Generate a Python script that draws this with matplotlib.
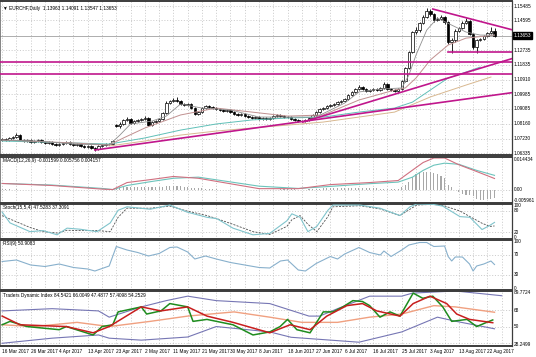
import matplotlib
matplotlib.use("Agg")
import matplotlib.pyplot as plt
from matplotlib.transforms import blended_transform_factory

plt.rcParams["font.family"] = ["Liberation Sans", "DejaVu Sans"]

W, H = 536, 357
X_LEFT, X_RIGHT = -0.6, 142.9

# daily candles, bar 0 = 16 Mar 2017 ... bar 138 = 24 Aug 2017 (Sunday bars included)
opens = [1.0715, 1.0721, 1.0715, 1.0728, 1.0734, 1.0746, 1.0715, 1.0709, 1.0715, 1.0703,
         1.0709, 1.0715, 1.0703, 1.0697, 1.0703, 1.0690, 1.0684, 1.0690, 1.0697, 1.0703,
         1.0690, 1.0684, 1.0690, 1.0678, 1.0672, 1.0678, 1.0665, 1.0659, 1.0678, 1.0684,
         1.0690, 1.0690, 1.0808, 1.0802, 1.0815, 1.0840, 1.0846, 1.0821, 1.0833, 1.0840,
         1.0846, 1.0852, 1.0808, 1.0827, 1.0833, 1.0846, 1.0883, 1.0945, 1.0958, 1.0964,
         1.0958, 1.0939, 1.0933, 1.0939, 1.0914, 1.0877, 1.0889, 1.0914, 1.0927, 1.0920,
         1.0914, 1.0908, 1.0902, 1.0896, 1.0902, 1.0889, 1.0877, 1.0871, 1.0877, 1.0864,
         1.0858, 1.0852, 1.0858, 1.0846, 1.0852, 1.0846, 1.0852, 1.0864, 1.0871, 1.0864,
         1.0858, 1.0858, 1.0846, 1.0840, 1.0833, 1.0833, 1.0840, 1.0852, 1.0871, 1.0889,
         1.0908, 1.0914, 1.0927, 1.0933, 1.0939, 1.0951, 1.0958, 1.0970, 1.0995, 1.1014,
         1.1032, 1.1045, 1.1032, 1.1020, 1.1026, 1.1032, 1.1026, 1.1039, 1.1063, 1.1032,
         1.1026, 1.1020, 1.1032, 1.1082, 1.1163, 1.1262, 1.1387, 1.1399, 1.1443, 1.1480,
         1.1517, 1.1499, 1.1461, 1.1468, 1.1480, 1.1449, 1.1325, 1.1337, 1.1393, 1.1412,
         1.1443, 1.1455, 1.1374, 1.1293, 1.1337, 1.1343, 1.1362, 1.1380, 1.13963]
highs = [1.0730, 1.0727, 1.0735, 1.0742, 1.0759, 1.0751, 1.0722, 1.0721, 1.0720, 1.0716,
         1.0722, 1.0719, 1.0709, 1.0710, 1.0707, 1.0696, 1.0697, 1.0703, 1.0710, 1.0707,
         1.0695, 1.0696, 1.0694, 1.0683, 1.0685, 1.0682, 1.0671, 1.0684, 1.0690, 1.0697,
         1.0698, 1.0716, 1.0812, 1.0827, 1.0849, 1.0858, 1.0852, 1.0842, 1.0848, 1.0855,
         1.0864, 1.0858, 1.0834, 1.0842, 1.0852, 1.0890, 1.0958, 1.0967, 1.0976, 1.0983,
         1.0962, 1.0945, 1.0947, 1.0943, 1.0918, 1.0896, 1.0920, 1.0935, 1.0933, 1.0927,
         1.0920, 1.0914, 1.0908, 1.0909, 1.0906, 1.0894, 1.0883, 1.0884, 1.0881, 1.0870,
         1.0864, 1.0865, 1.0862, 1.0859, 1.0857, 1.0858, 1.0871, 1.0878, 1.0877, 1.0870,
         1.0865, 1.0862, 1.0851, 1.0845, 1.0840, 1.0847, 1.0858, 1.0877, 1.0895, 1.0914,
         1.0921, 1.0934, 1.0940, 1.0946, 1.0958, 1.0965, 1.0977, 1.1001, 1.1020, 1.1040,
         1.1057, 1.1051, 1.1038, 1.1033, 1.1039, 1.1038, 1.1045, 1.1076, 1.1069, 1.1039,
         1.1032, 1.1039, 1.1088, 1.1170, 1.1268, 1.1393, 1.1418, 1.1449, 1.1493, 1.1536,
         1.1530, 1.1505, 1.1480, 1.1493, 1.1486, 1.1455, 1.1349, 1.1405, 1.1418, 1.1455,
         1.1474, 1.1461, 1.1380, 1.1343, 1.1349, 1.1368, 1.1387, 1.1418, 1.14091]
lows = [1.0708, 1.0706, 1.0712, 1.0722, 1.0729, 1.0710, 1.0702, 1.0703, 1.0698, 1.0699,
        1.0704, 1.0698, 1.0691, 1.0692, 1.0686, 1.0679, 1.0680, 1.0686, 1.0692, 1.0685,
        1.0678, 1.0679, 1.0673, 1.0666, 1.0667, 1.0660, 1.0647, 1.0655, 1.0672, 1.0679,
        1.0683, 1.0686, 1.0797, 1.0790, 1.0810, 1.0833, 1.0815, 1.0815, 1.0827, 1.0834,
        1.0840, 1.0802, 1.0802, 1.0821, 1.0827, 1.0840, 1.0877, 1.0939, 1.0951, 1.0950,
        1.0933, 1.0927, 1.0927, 1.0908, 1.0871, 1.0871, 1.0883, 1.0908, 1.0914, 1.0908,
        1.0902, 1.0896, 1.0890, 1.0890, 1.0883, 1.0871, 1.0865, 1.0866, 1.0858, 1.0852,
        1.0846, 1.0847, 1.0840, 1.0841, 1.0840, 1.0841, 1.0847, 1.0859, 1.0858, 1.0852,
        1.0852, 1.0840, 1.0834, 1.0827, 1.0826, 1.0828, 1.0835, 1.0847, 1.0866, 1.0884,
        1.0902, 1.0909, 1.0921, 1.0927, 1.0934, 1.0946, 1.0952, 1.0965, 1.0989, 1.1008,
        1.1026, 1.1026, 1.1014, 1.1014, 1.1020, 1.1020, 1.1020, 1.1033, 1.1026, 1.1020,
        1.1014, 1.1014, 1.1026, 1.1076, 1.1157, 1.1256, 1.1374, 1.1387, 1.1436, 1.1474,
        1.1486, 1.1449, 1.1455, 1.1461, 1.1436, 1.1312, 1.1256, 1.1325, 1.1387, 1.1405,
        1.1436, 1.1368, 1.1281, 1.1256, 1.1331, 1.1337, 1.1355, 1.1374, 1.13547]
closes = [1.0721, 1.0715, 1.0728, 1.0734, 1.0746, 1.0715, 1.0709, 1.0715, 1.0703, 1.0709,
          1.0715, 1.0703, 1.0697, 1.0703, 1.0690, 1.0684, 1.0690, 1.0697, 1.0703, 1.0690,
          1.0684, 1.0690, 1.0678, 1.0672, 1.0678, 1.0665, 1.0659, 1.0678, 1.0684, 1.0690,
          1.0690, 1.0709, 1.0802, 1.0815, 1.0840, 1.0846, 1.0821, 1.0833, 1.0840, 1.0846,
          1.0852, 1.0808, 1.0827, 1.0833, 1.0846, 1.0883, 1.0945, 1.0958, 1.0964, 1.0958,
          1.0939, 1.0933, 1.0939, 1.0914, 1.0877, 1.0889, 1.0914, 1.0927, 1.0920, 1.0914,
          1.0908, 1.0902, 1.0896, 1.0902, 1.0889, 1.0877, 1.0871, 1.0877, 1.0864, 1.0858,
          1.0852, 1.0858, 1.0846, 1.0852, 1.0846, 1.0852, 1.0864, 1.0871, 1.0864, 1.0858,
          1.0858, 1.0846, 1.0840, 1.0833, 1.0833, 1.0840, 1.0852, 1.0871, 1.0889, 1.0908,
          1.0914, 1.0927, 1.0933, 1.0939, 1.0951, 1.0958, 1.0970, 1.0995, 1.1014, 1.1032,
          1.1045, 1.1032, 1.1020, 1.1026, 1.1032, 1.1026, 1.1039, 1.1063, 1.1032, 1.1026,
          1.1020, 1.1032, 1.1082, 1.1163, 1.1262, 1.1387, 1.1399, 1.1443, 1.1480, 1.1517,
          1.1499, 1.1461, 1.1468, 1.1480, 1.1449, 1.1325, 1.1337, 1.1393, 1.1412, 1.1443,
          1.1455, 1.1374, 1.1293, 1.1337, 1.1343, 1.1362, 1.1380, 1.1396, 1.13653]

date_labels = ["16 Mar 2017", "26 Mar 2017", "4 Apr 2017", "13 Apr 2017", "23 Apr 2017",
               "2 May 2017", "11 May 2017", "21 May 2017", "30 May 2017", "8 Jun 2017",
               "18 Jun 2017", "27 Jun 2017", "6 Jul 2017", "16 Jul 2017", "25 Jul 2017",
               "3 Aug 2017", "13 Aug 2017", "22 Aug 2017"]

price_ticks = [1.15485, 1.14595, 1.12735, 1.11835, 1.10910, 1.09985, 1.09085,
               1.08160, 1.07230, 1.06335]
last_price = 1.13653

# moving averages on the price chart, read as (bar, price) points
ma_fast_x = [0, 10, 20, 30, 33, 36, 42, 46, 50, 56, 64, 72, 80, 88, 96, 100, 106, 112,
             114, 116, 119, 122, 126, 130, 134, 138]
ma_fast_y = [1.0715, 1.0709, 1.0690, 1.0684, 1.0746, 1.0815, 1.0833, 1.0864, 1.0939,
             1.0914, 1.0902, 1.0858, 1.0858, 1.0858, 1.0945, 1.1014, 1.1032, 1.1039,
             1.1119, 1.1244, 1.1399, 1.1474, 1.1430, 1.1387, 1.1368, 1.1368]
ma_mid_x = [0, 20, 30, 34, 40, 50, 60, 70, 80, 90, 100, 110, 113, 116, 120, 125, 130, 138]
ma_mid_y = [1.0715, 1.0697, 1.0684, 1.0728, 1.0790, 1.0871, 1.0914, 1.0889, 1.0864,
            1.0871, 1.0964, 1.1026, 1.1039, 1.1101, 1.1213, 1.1306, 1.1349, 1.1368]
ma_teal_x = [0, 20, 30, 40, 50, 60, 70, 80, 90, 100, 110, 115, 120, 125, 130, 134]
ma_teal_y = [1.0709, 1.0697, 1.0690, 1.0728, 1.0777, 1.0815, 1.0840, 1.0852, 1.0858,
             1.0889, 1.0914, 1.0951, 1.1026, 1.1101, 1.1138, 1.1169]
ma_tan_x = [30, 40, 50, 60, 70, 80, 90, 100, 110, 120, 130, 137]
ma_tan_y = [1.0678, 1.0709, 1.0746, 1.0771, 1.0790, 1.0808, 1.0827, 1.0858, 1.0889,
            1.0983, 1.1057, 1.1107]

# drawn objects: (bar, price) end points
trend_lines = [((84.3, 1.0827), (144.3, 1.1231)),
               ((26, 1.0653), (144.3, 1.1014))]
down_line = ((120.7, 1.1530), (144.3, 1.1393))
support_short = (125, 1.1262)
h_lines = [1.1198, 1.1126]

# MACD(12,26,9)
macd_hist = [2, 1, 1, 0, 1, 0, -1, -1, 0, -1, -1, -1, -1, -2, -1, -1, -1, -1, -1, -2,
             -1, -1, -1, -1, -1, -1, -1, 0, 0, 1, 1, 2, 6, 9, 11, 12, 12, 12, 13, 13,
             13, 12, 12, 12, 12, 13, 15, 17, 17, 16, 15, 13, 11, 9, 8, 6, 5, 4, 3, 2,
             1, 0, -1, -2, -2, -3, -3, -3, -3, -3, -3, -2, -2, -2, -2, -1, 0, 0, 1, 1,
             1, 1, 1, 0, 0, 0, 1, 2, 3, 4, 5, 6, 6, 7, 7, 8, 8, 9, 9, 9,
             8, 7, 6, 6, 5, 5, 4, 4, 3, 3, 3, 3, 10, 20, 35, 55, 70, 77, 80, 80,
             78, 75, 70, 60, 50, 20, 10, 0, -10, -18, -22, -25, -30, -40, -45, -45, -42, -40, -38]
macd_x = [0, 14, 28, 31, 35, 42, 48, 55, 72, 83, 92, 103, 111, 115, 118, 121, 124, 128, 133, 138]
macd_main = [27, 18, 2, 0, 31, 45, 58, 50, 4, 4, 22, 31, 40, 86, 120, 140, 140, 110, 80, 49]
macd_signal = [27, 20, 5, 0, 18, 36, 50, 55, 15, 5, 14, 26, 33, 55, 85, 108, 117, 112, 85, 63]

# Stochastic(15,5,4)
stoch_x = [0, 2.2, 7.8, 11.5, 15.4, 18.2, 21.8, 26.6, 30.3, 32.5, 35, 41.5, 47, 51.8,
           57.4, 60.2, 64.7, 70.3, 75, 79.8, 81.2, 83.5, 85.7, 88.2, 91.3, 92.7, 100.3,
           105.9, 111.5, 114.3, 116.2, 120.7, 123.5, 128.3, 131.1, 134.5, 136.7, 138]
stoch_main = [77, 46, 21, 24, 12, 31, 28, 21, 46, 82, 92, 85, 97, 77, 62, 58, 31, 12, 16,
              52, 72, 62, 21, 36, 82, 97, 97, 88, 67, 92, 100, 99, 94, 64, 62, 27, 39, 47.5]
stoch_signal = [67, 57, 33, 21, 17, 25, 24, 24, 21, 62, 88, 88, 94, 80, 67, 58, 42, 21, 13,
                36, 55, 67, 42, 21, 64, 92, 95, 86, 67, 85, 97, 99, 96, 80, 64, 45, 36, 37.3]

# RSI(9)
rsi_x = [0, 4, 8, 12, 16, 20, 24, 26, 30, 32, 35, 38, 41, 44, 47, 49, 52, 54, 57, 60, 64,
         68, 72, 75, 78, 80, 83, 85, 88, 92, 94, 96, 100, 103, 106, 107, 109, 112, 114,
         117, 119, 121, 124, 125, 126, 127, 129, 131, 132, 133, 135, 137, 138]
rsi_val = [57, 60, 50, 47, 52, 45, 42, 38, 48, 87, 80, 75, 68, 73, 85, 86, 76, 62, 68, 62,
           55, 50, 45, 44, 58, 60, 40, 38, 53, 67, 62, 72, 85, 75, 70, 78, 67, 80, 90, 95,
           95, 87, 88, 67, 58, 66, 66, 52, 38, 48, 52, 58, 50.9]

# Traders Dynamic Index
tdi_up_x = [0, 14, 27, 30, 39, 46, 52, 60, 75, 86, 89, 94, 103, 112, 115, 127, 140]
tdi_up = [67.5, 70, 67.5, 60.5, 72, 79, 84, 79, 75.7, 61.7, 61.7, 70, 84, 84, 87.4, 89.8, 84.5]
tdi_lo_x = [0, 14, 27, 30, 39, 52, 60, 75, 81, 100, 112, 122, 127, 138]
tdi_lo = [31.3, 37, 40.6, 37, 34.8, 38.3, 50, 44, 38, 32.5, 44, 60.5, 56, 47.5]
tdi_base_x = [0, 9, 21, 30, 41.5, 52, 65, 75, 84, 94, 103, 112, 121, 127, 138]
tdi_base = [52, 50, 54.7, 50, 55.8, 61.7, 66.4, 60.5, 54.7, 54.7, 60.5, 64, 73.4, 72, 66]
tdi_green_x = [0, 2.2, 7, 16, 18, 25.5, 28, 31, 32.5, 39, 40.5, 44.5, 47, 52, 53.5, 57.4,
               64.7, 70.3, 75, 77.9, 80, 82.6, 86.3, 90, 92.7, 95.5, 98.3, 101, 103, 105.9,
               108.7, 111.5, 115.2, 117.9, 120.7, 123.5, 126, 130.3, 133, 135.8, 137.5]
tdi_green = [52, 55.8, 50, 46.5, 50, 40.6, 50, 52, 66.4, 72, 64, 67.5, 75.7, 72, 55.8, 58,
             52, 40.6, 44, 50, 58, 46.5, 43, 66.4, 66.4, 72, 79, 78, 73.4, 60.5, 66.4, 61.7,
             87.4, 81.6, 84, 72, 55.8, 58, 50, 54.7, 57.4]
tdi_red_x = [0, 5, 18, 25.5, 30, 39, 44.5, 52, 57.4, 64.7, 75, 80.7, 86.3, 91, 96.6, 101,
             105, 111.5, 115.2, 119.9, 124.6, 127.4, 131, 137.5]
tdi_red = [61.7, 52, 50, 43, 50, 72, 67.5, 72, 61.7, 54.7, 43, 52, 46.5, 61.7, 73.4, 75.7,
           67.5, 61.7, 75.7, 84, 75.7, 64, 58, 54.3]

MAGENTA = "#C0168C"
GRID = dict(color="#b8b8b8", lw=0.5, ls=(0, (1.5, 2.5)))
FS = 3.4

fig = plt.figure(figsize=(W / 100, H / 100), dpi=100)
fig.patch.set_facecolor("white")


def panel(top, bottom):
    ax = fig.add_axes([0, 1 - bottom / H, 512 / W, (bottom - top) / H])
    ax.set_xlim(X_LEFT, X_RIGHT)
    ax.set_xticks([])
    ax.set_yticks([])
    for s in ("top", "bottom"):
        ax.spines[s].set_color("#3c3c3c")
        ax.spines[s].set_linewidth(1.4)
    ax.spines["right"].set_color("#3c3c3c")
    ax.spines["right"].set_linewidth(0.9)
    ax.spines["left"].set_color("#707070")
    ax.spines["left"].set_linewidth(0.6)
    for b in range(0, 143, 4):
        ax.axvline(b, zorder=0, **GRID)
    return ax


def right_label(ax, value, text, **kw):
    tr = blended_transform_factory(ax.transAxes, ax.transData)
    ax.text(1.004, value, text, transform=tr, fontsize=FS, va="center", ha="left",
            clip_on=False, **kw)


def title(ax, text):
    ax.text(0.006, 0.97, text, transform=ax.transAxes, fontsize=FS, va="top", ha="left")


# ---------------- price panel ----------------
ax = panel(1, 155)
ax.set_ylim(1.0622, 1.1580)
for p in price_ticks:
    ax.axhline(p, zorder=0, **GRID)
    right_label(ax, p, "%.5f" % p)
ax.axhline(last_price, color="#a0a0a0", lw=0.6, zorder=1)
right_label(ax, last_price, "%.5f" % last_price, color="white",
            bbox=dict(boxstyle="square,pad=0.15", fc="black", ec="black"))

bars = range(len(closes))
ax.vlines(bars, lows, highs, color="black", lw=0.6, zorder=2)
ax.bar(bars, [max(abs(c - o), 0.00006) for o, c in zip(opens, closes)],
       bottom=[min(o, c) for o, c in zip(opens, closes)], width=0.7,
       color=["white" if c >= o else "black" for o, c in zip(opens, closes)],
       edgecolor="black", lw=0.5, zorder=3)

ax.plot(ma_tan_x, ma_tan_y, color="#d8b890", lw=0.7, zorder=4)
ax.plot(ma_teal_x, ma_teal_y, color="#60c0b8", lw=0.7, zorder=4)
ax.plot(ma_mid_x, ma_mid_y, color="#c09090", lw=0.7, zorder=4)
ax.plot(ma_fast_x, ma_fast_y, color="#909090", lw=0.6, zorder=4)

for (x0, y0), (x1, y1) in trend_lines:
    ax.plot([x0, x1], [y0, y1], color=MAGENTA, lw=1.2, zorder=5)
ax.plot([down_line[0][0], down_line[1][0]], [down_line[0][1], down_line[1][1]],
        color=MAGENTA, lw=1.2, zorder=5)
ax.plot([support_short[0], X_RIGHT], [support_short[1]] * 2, color=MAGENTA, lw=1.2, zorder=5)
for h in h_lines:
    ax.axhline(h, color=MAGENTA, lw=1.2, zorder=5)
title(ax, "\u25bc EURCHF,Daily  1.13963 1.14091 1.13547 1.13653")

# ---------------- MACD ----------------
ax = panel(157, 203)
ax.set_ylim(-0.005961, 0.014434)
ax.axhline(0, zorder=0, **GRID)
ax.bar(bars, [v * 1e-4 for v in macd_hist], width=0.3, color="#a8a8a8", zorder=1)
ax.plot(macd_x, [v * 1e-4 for v in macd_signal], color="#6cc4bc", lw=0.8, zorder=2)
ax.plot(macd_x, [v * 1e-4 for v in macd_main], color="#d07080", lw=0.8, zorder=2)
right_label(ax, 0.0134, "0.014434")
right_label(ax, 0.0, "0.00")
right_label(ax, -0.0048, "-0.005961")
title(ax, "MACD(12,26,9) -0.001599 0.005756 0.004157")

# ---------------- Stochastic ----------------
ax = panel(204, 239)
ax.set_ylim(0, 100)
for lv in (20, 80):
    ax.axhline(lv, zorder=0, **GRID)
ax.plot(stoch_x, stoch_signal, color="#505050", lw=0.6, ls=(0, (2.5, 1.5)), zorder=2)
ax.plot(stoch_x, stoch_main, color="#80c4cc", lw=0.8, zorder=3)
for lv, t in ((97, "100"), (80, "80"), (20, "20"), (4, "0")):
    right_label(ax, lv, t)
title(ax, "Stoch(15,5,4) 47.5283 37.3091")

# ---------------- RSI ----------------
ax = panel(240, 290)
ax.set_ylim(0, 100)
for lv in (30, 70):
    ax.axhline(lv, zorder=0, **GRID)
ax.plot(rsi_x, rsi_val, color="#88b0cc", lw=0.8, zorder=2)
for lv, t in ((97, "100"), (70, "70"), (30, "30"), (3, "0")):
    right_label(ax, lv, t)
title(ax, "RSI(9) 50.9083")

# ---------------- TDI ----------------
ax = panel(291, 346)
ax.set_ylim(28.2499, 89.7724)
for lv in (32, 50, 68):
    ax.axhline(lv, zorder=0, **GRID)
ax.plot(tdi_up_x, tdi_up, color="#7676b4", lw=0.8, zorder=2)
ax.plot(tdi_lo_x, tdi_lo, color="#7676b4", lw=0.8, zorder=2)
ax.plot(tdi_base_x, tdi_base, color="#f0a080", lw=1.0, zorder=2)
ax.plot(tdi_green_x, tdi_green, color="#1e8c1e", lw=1.1, zorder=3)
ax.plot(tdi_red_x, tdi_red, color="#c81e1e", lw=1.1, zorder=4)
right_label(ax, 88.4, "89.7724")
right_label(ax, 68, "68")
right_label(ax, 50, "50")
right_label(ax, 29.8, "28.2499")
title(ax, "Traders Dynamic Index 84.5421 66.0049 47.4877 57.4098 54.2529")

tr = blended_transform_factory(ax.transData, ax.transAxes)
for k, lab in enumerate(date_labels):
    ax.text(k * 8, -0.06, lab, transform=tr, fontsize=FS, va="top", ha="left", clip_on=False)

fig.savefig("out.png", dpi=100, facecolor="white")
